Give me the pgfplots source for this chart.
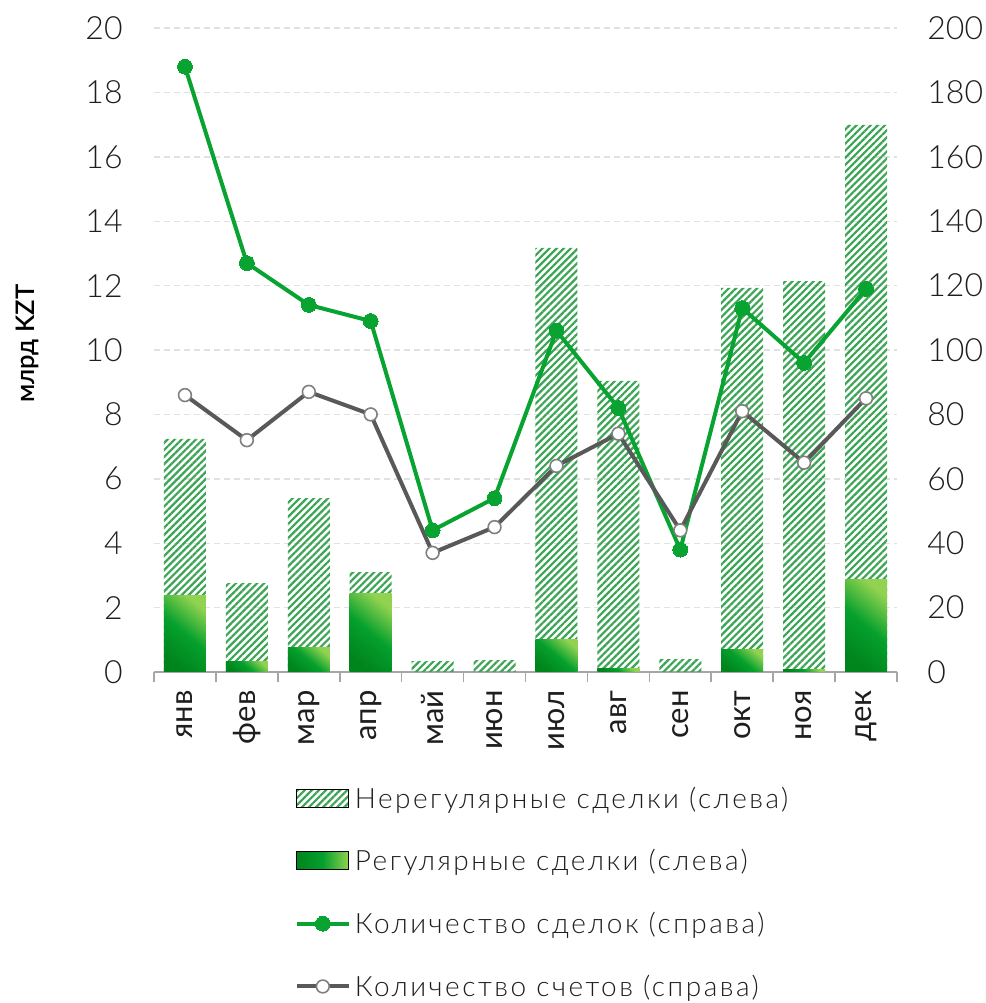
\documentclass[border=0pt]{standalone}
\usepackage{fontspec}
\setmainfont{Lato}
\newfontfamily\lightf{Lato Light}
\newfontfamily\legf{Lato Light}[LetterSpace=9]
\newfontfamily\semif{Lato Semibold}
\usepackage{pgfplots}
\usepackage{pgfplotstable}
\pgfplotsset{compat=1.18}
\usetikzlibrary{patterns.meta}

\definecolor{dkgreen}{RGB}{0,132,28}
\definecolor{midgreen}{RGB}{5,160,45}
\definecolor{ltgreen}{RGB}{145,210,80}
\definecolor{hatch}{RGB}{60,165,85}
\definecolor{deal}{RGB}{8,163,48}
\definecolor{acc}{RGB}{89,89,89}
\definecolor{accmark}{RGB}{128,128,128}
\definecolor{gridc}{RGB}{225,225,225}
\definecolor{axisc}{RGB}{166,166,166}
\definecolor{txt}{RGB}{30,30,30}

\pgfplotstableread{
x reg tot deals acc
0 2.39 7.24 188 86
1 0.34 2.76 127 72
2 0.75 5.40 114 87
3 2.43 3.10 109 80
4 0.00 0.34 44 37
5 0.00 0.37 54 45
6 1.02 13.17 106 64
7 0.12 9.04 82 74
8 0.00 0.40 38 44
9 0.71 11.93 113 81
10 0.09 12.14 96 65
11 2.87 16.99 119 85
}\datatable

\pgfplotsset{
  regbar/.style={ybar, bar width=21pt, bar shift=0pt, draw=none, bottom color=dkgreen, top color=ltgreen, middle color=midgreen, shading angle=-40},
  hatchbar/.style={ybar, bar width=21pt, bar shift=0pt, draw=none, pattern={Lines[angle=45,distance=2.5pt,line width=1.1pt]}, pattern color=hatch},
}

\begin{document}
\begin{tikzpicture}
\useasboundingbox (0,0) rectangle (493pt,501.5pt);
\begin{axis}[
  at={(77pt,165.5pt)}, anchor=south west,
  scale only axis, width=371.5pt, height=322pt,
  xmin=-0.5, xmax=11.5, ymin=0, ymax=20,
  axis lines*=left,
  y axis line style={draw=none},
  x axis line style={axisc, line width=0.8pt},
  xtick={0,...,11},
  xticklabels={янв,фев,мар,апр,май,июн,июл,авг,сен,окт,ноя,дек},
  minor xtick={-0.5,0.5,...,11.5},
  tick align=outside, major tick length=0pt, minor tick length=5pt,
  minor x tick style={axisc, line width=0.8pt},
  ytick={0,2,...,20},
  ymajorgrids, grid style={gridc, dash pattern=on 3pt off 2pt, line width=0.7pt},
  /pgf/number format/assume math mode=true,
  yticklabel style={font=\lightf\fontsize{16}{16}\selectfont, text=txt, inner sep=0pt, xshift=-15.5pt},
  xticklabel style={font=\fontsize{15.5}{15.5}\selectfont, text=txt, inner sep=0pt, yshift=-9pt, rotate=90, anchor=east},
  every axis y label/.style={at={(axis description cs:-0.170,0.51)}, rotate=90, anchor=center, font=\semif\fontsize{12.8}{12.8}\selectfont, text=black},
  ylabel={млрд KZT},
]
\addplot[hatchbar] table[x=x, y=tot] {\datatable};
\pgfplotsinvokeforeach{0,1,2,3,6,7,9,10,11}{
  \addplot[regbar, restrict x to domain=#1:#1] table[x=x, y=reg] {\datatable};
}
\end{axis}
\begin{axis}[
  at={(77pt,165.5pt)}, anchor=south west,
  scale only axis, width=371.5pt, height=322pt,
  xmin=-0.5, xmax=11.5, ymin=0, ymax=200,
  axis x line=none, axis y line*=right,
  y axis line style={draw=none},
  ytick={0,20,...,200},
  tick align=outside, major tick length=0pt,
  clip=false,
  /pgf/number format/assume math mode=true,
  yticklabel style={font=\lightf\fontsize{16}{16}\selectfont, text=txt, inner sep=0pt, xshift=15pt, anchor=west},
  legend cell align=left,
  legend style={at={(axis description cs:0.189,-0.1765)}, anchor=north west, draw=none, fill=none, inner sep=0pt, row sep=16.9pt, column sep=2pt, font=\legf\fontsize{14}{14}\selectfont, text=txt, nodes={inner sep=0pt, text height=11pt, text depth=3.5pt}},
  legend image code/.code={\draw[mark repeat=2,mark phase=2,#1] plot coordinates {(0pt,1.25pt) (13pt,1.25pt) (26pt,1.25pt)};},
]
\addlegendimage{legend image code/.code={\fill[pattern={Lines[angle=45,distance=2.5pt,line width=1.1pt]}, pattern color=hatch] (0pt,-3.25pt) rectangle (26pt,5.75pt);}}
\addlegendentry{Нерегулярные сделки (слева)}
\addlegendimage{legend image code/.code={\shade[left color=dkgreen, right color=ltgreen, middle color=midgreen] (0pt,-3.25pt) rectangle (26pt,5.75pt);}}
\addlegendentry{Регулярные сделки (слева)}
\addplot[deal, line width=2pt, mark=*, mark size=3.7pt, mark options={solid, fill=deal, draw=deal, line width=0pt}] table[x=x, y=deals] {\datatable};
\addlegendentry{Количество сделок (справа)}
\addplot[acc, line width=2pt, mark=*, mark size=3.2pt, mark options={solid, fill=white, draw=accmark, line width=0.8pt}] table[x=x, y=acc] {\datatable};
\addlegendentry{Количество счетов (справа)}
\end{axis}
\end{tikzpicture}
\end{document}
